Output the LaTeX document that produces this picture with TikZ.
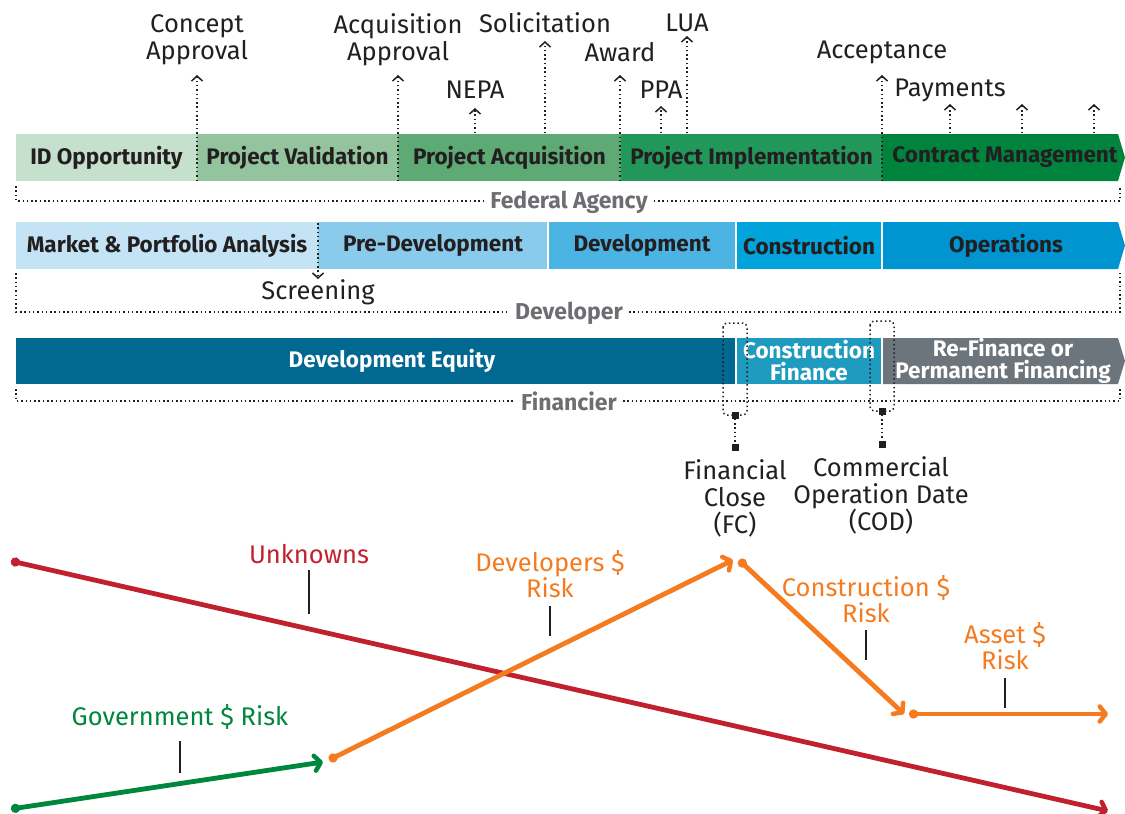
\documentclass[tikz,border=0pt]{standalone}
\usepackage{fontspec}
\setmainfont{Fira Sans}
\usetikzlibrary{arrows.meta}
\definecolor{gA}{HTML}{C5E0CC}
\definecolor{gB}{HTML}{93C49E}
\definecolor{gC}{HTML}{5EAA75}
\definecolor{gD}{HTML}{21975A}
\definecolor{gE}{HTML}{00843D}
\definecolor{bA}{HTML}{C4E4F5}
\definecolor{bB}{HTML}{8ACBEB}
\definecolor{bC}{HTML}{4CB4E3}
\definecolor{bD}{HTML}{00A4DA}
\definecolor{bE}{HTML}{0094D1}
\definecolor{fA}{HTML}{006891}
\definecolor{fB}{HTML}{1F9BBF}
\definecolor{fC}{HTML}{6C757B}
\definecolor{ink}{HTML}{231F20}
\definecolor{grayt}{HTML}{6D6E71}
\definecolor{redl}{HTML}{C1202F}
\definecolor{greenl}{HTML}{00873E}
\definecolor{orangel}{HTML}{F47B20}
\begin{document}
\begin{tikzpicture}[x=1pt,y=-1pt,
  barfont/.style={font=\bfseries\fontsize{22.5}{23}\selectfont},
  seg/.style={barfont, inner sep=0pt, outer sep=0pt, minimum height=47pt, anchor=north west, text=ink},
  lbl/.style={font=\fontsize{25.5}{27}\selectfont, text=ink, align=center, inner sep=0pt},
  grp/.style={font=\bfseries\fontsize{23}{24}\selectfont, text=grayt, inner sep=6pt},
  dots/.style={line width=1.5pt, dash pattern=on 1.5pt off 2.8pt, ink},
  upar/.style={dots, -{Straight Barb[length=5pt,width=11pt,line width=1.5pt]}},
  sq/.style={fill=ink, inner sep=0pt, minimum size=7pt},
  risk/.style={line width=4.8pt, line cap=round, line join=round},
  rarrow/.style={risk, {Circle[length=9pt]}-{Straight Barb[length=6pt,width=15pt,round,line width=4.5pt]}},
  tick/.style={line width=1.5pt, ink},
  rlbl/.style={font=\fontsize{25.5}{26.5}\selectfont, align=center, inner sep=0pt}
]
\useasboundingbox (0,0) rectangle (1125,814);

% ---------------- Federal Agency bar ----------------
\node[seg, fill=gA, minimum width=181pt] (idop) at (16,134) {ID Opportunity};
\node[seg, fill=gB, minimum width=201pt] (pval) at (197,134) {Project Validation};
\node[seg, fill=gC, minimum width=223pt] (pacq) at (398,134) {Project Acquisition};
\node[seg, fill=gD, minimum width=261pt] (pimp) at (621,134) {Project Implementation};
\fill[gE] (882,134) -- (1118,134) -- (1125,157.5) -- (1118,181) -- (882,181) -- cycle;
\node[barfont, text=ink, inner sep=0pt] (cman) at (1005,157.5) {Contract Management};

% milestone labels
\node[lbl] (concept) at (197,40) {Concept\\Approval};
\node[lbl] (acqapp) at (398,40) {Acquisition\\Approval};
\node[lbl] (nepa) at (475,90) {NEPA};
\node[lbl] (solic) at (545,23) {Solicitation};
\node[lbl] (award) at (620,52) {Award};
\node[lbl] (ppa) at (661,90) {PPA};
\node[lbl] (lua) at (687,23) {LUA};
\node[lbl] (accept) at (882,52) {Acceptance};
\node[lbl] (paym) at (950,90) {Payments};

\coordinate (c0) at (197,181); \coordinate (c1) at (197,75);
\coordinate (a0) at (398,181); \coordinate (a1) at (398,75);
\coordinate (n0) at (475,133); \coordinate (n1) at (475,108);
\coordinate (s0) at (545,133); \coordinate (s1) at (545,41);
\coordinate (w0) at (620,181); \coordinate (w1) at (620,75);
\coordinate (p0) at (661,133); \coordinate (p1) at (661,106);
\coordinate (l0) at (687,133); \coordinate (l1) at (687,36);
\coordinate (e0) at (882,181); \coordinate (e1) at (882,75);
\coordinate (y0) at (950,133); \coordinate (y1) at (950,104);
\coordinate (z0) at (1022,133); \coordinate (z1) at (1022,104);
\coordinate (v0) at (1094,133); \coordinate (v1) at (1094,104);
\foreach \s/\t in {c0/c1,a0/a1,n0/n1,s0/s1,w0/w1,p0/p1,l0/l1,e0/e1,y0/y1,z0/z1,v0/v1}
  \draw[upar] (\s) -- (\t);

% bracket
\node[grp] (fed) at (569,202) {Federal Agency};
\draw[dots] (16,186) -- (16,201) -- (fed.west |- 0,201);
\draw[dots] (fed.east |- 0,201) -- (1120,201) -- (1120,186);

% ---------------- Developer bar ----------------
\node[seg, fill=bA, minimum width=302pt] (mkt) at (16,222) {Market \& Portfolio Analysis};
\node[seg, fill=bB, minimum width=230pt] (pre) at (318,222) {Pre-Development};
\node[seg, fill=bC, minimum width=188pt] (dev) at (548,222) {Development};
\node[seg, fill=bD, minimum width=146pt] (con) at (736,222) {Construction};
\fill[bE] (882,222) -- (1118,222) -- (1125,245.5) -- (1118,269) -- (882,269) -- cycle;
\node[barfont, text=ink, inner sep=0pt] (ops) at (1006,245.5) {Operations};
\draw[white, line width=1.5pt] (548,222) -- (548,269) (736,222) -- (736,269) (882,222) -- (882,269);

\node[lbl] (screen) at (318,292) {Screening};
\coordinate (sc0) at (318,223); \coordinate (sc1) at (318,279);
\draw[upar] (sc0) -- (sc1);

\node[grp] (devl) at (569,313) {Developer};
\draw[dots] (16,273) -- (16,312) -- (devl.west |- 0,312);
\draw[dots] (devl.east |- 0,312) -- (1120,312) -- (1120,273);

% ---------------- Financier bar ----------------
\fill[fA] (16,338) rectangle (736,384);
\node[barfont, text=white, inner sep=0pt] (equity) at (392,361) {Development Equity};
\fill[fB] (736,338) rectangle (882,384);
\node[font=\bfseries\fontsize{22.5}{22}\selectfont, text=white, inner sep=0pt, align=center] (cfin) at (809,361) {Construction\\Finance};
\fill[fC] (882,338) -- (1118,338) -- (1125,361) -- (1118,384) -- (882,384) -- cycle;
\node[font=\bfseries\fontsize{22.5}{22}\selectfont, text=white, inner sep=0pt, align=center] (refin) at (1003,361) {Re-Finance or\\Permanent Financing};
\draw[white, line width=1.5pt] (736,338) -- (736,384) (882,338) -- (882,384);

\node[grp] (finl) at (569,401) {Financier};
\draw[dots] (16,389) -- (16,401) -- (finl.west |- 0,401);
\draw[dots] (finl.east |- 0,401) -- (1120,401) -- (1120,389);

% FC / COD markers
\draw[dots, rounded corners=4pt] (723,323) rectangle (747,415);
\node[sq] (fc1) at (735,415) {};
\node[sq] (fc2) at (735,447) {};
\draw[dots] (fc1) -- (fc2);
\node[lbl] (fclbl) at (735,498) {Financial\\Close\\(FC)};

\draw[dots, rounded corners=4pt] (870,321) rectangle (894,411);
\node[sq] (cod1) at (882,411) {};
\node[sq] (cod2) at (882,444) {};
\draw[dots] (cod1) -- (cod2);
\node[lbl] (codlbl) at (881,495) {Commercial\\Operation Date\\(COD)};

% ---------------- Risk lines ----------------
\coordinate (u0) at (11,561); \coordinate (u1) at (1108,811);
\coordinate (gv0) at (11,809); \coordinate (gv1) at (323,762);
\coordinate (d0) at (329,760); \coordinate (d1) at (733,560);
\coordinate (k0) at (739,560); \coordinate (k1) at (904,714);
\coordinate (t0) at (909,714); \coordinate (t1) at (1108,714);

\draw[rarrow, redl] (u0) -- (u1);
\draw[rarrow, greenl] (gv0) -- (gv1);
\draw[rarrow, orangel] (d0) -- (d1);
\draw[rarrow, orangel] (k0) -- (k1);
\draw[rarrow, orangel] (t0) -- (t1);

\node[rlbl, text=redl] (unk) at (309,554) {Unknowns};
\node[rlbl, text=greenl] (gov) at (180,717) {Government \$ Risk};
\node[rlbl, text=orangel] (devr) at (550,574) {Developers \$\\Risk};
\node[rlbl, text=orangel] (conr) at (866,599) {Construction \$\\Risk};
\node[rlbl, text=orangel] (assr) at (1005,646) {Asset \$\\Risk};

\coordinate (tu0) at (309,570); \coordinate (tu1) at (309,614);
\coordinate (tg0) at (180,741); \coordinate (tg1) at (180,773);
\coordinate (td0) at (550,606); \coordinate (td1) at (550,636);
\coordinate (tc0) at (866,630); \coordinate (tc1) at (866,660);
\coordinate (ta0) at (1005,678); \coordinate (ta1) at (1005,708);
\foreach \s/\t in {tu0/tu1,tg0/tg1,td0/td1,tc0/tc1,ta0/ta1}
  \draw[tick] (\s) -- (\t);
\end{tikzpicture}
\end{document}
